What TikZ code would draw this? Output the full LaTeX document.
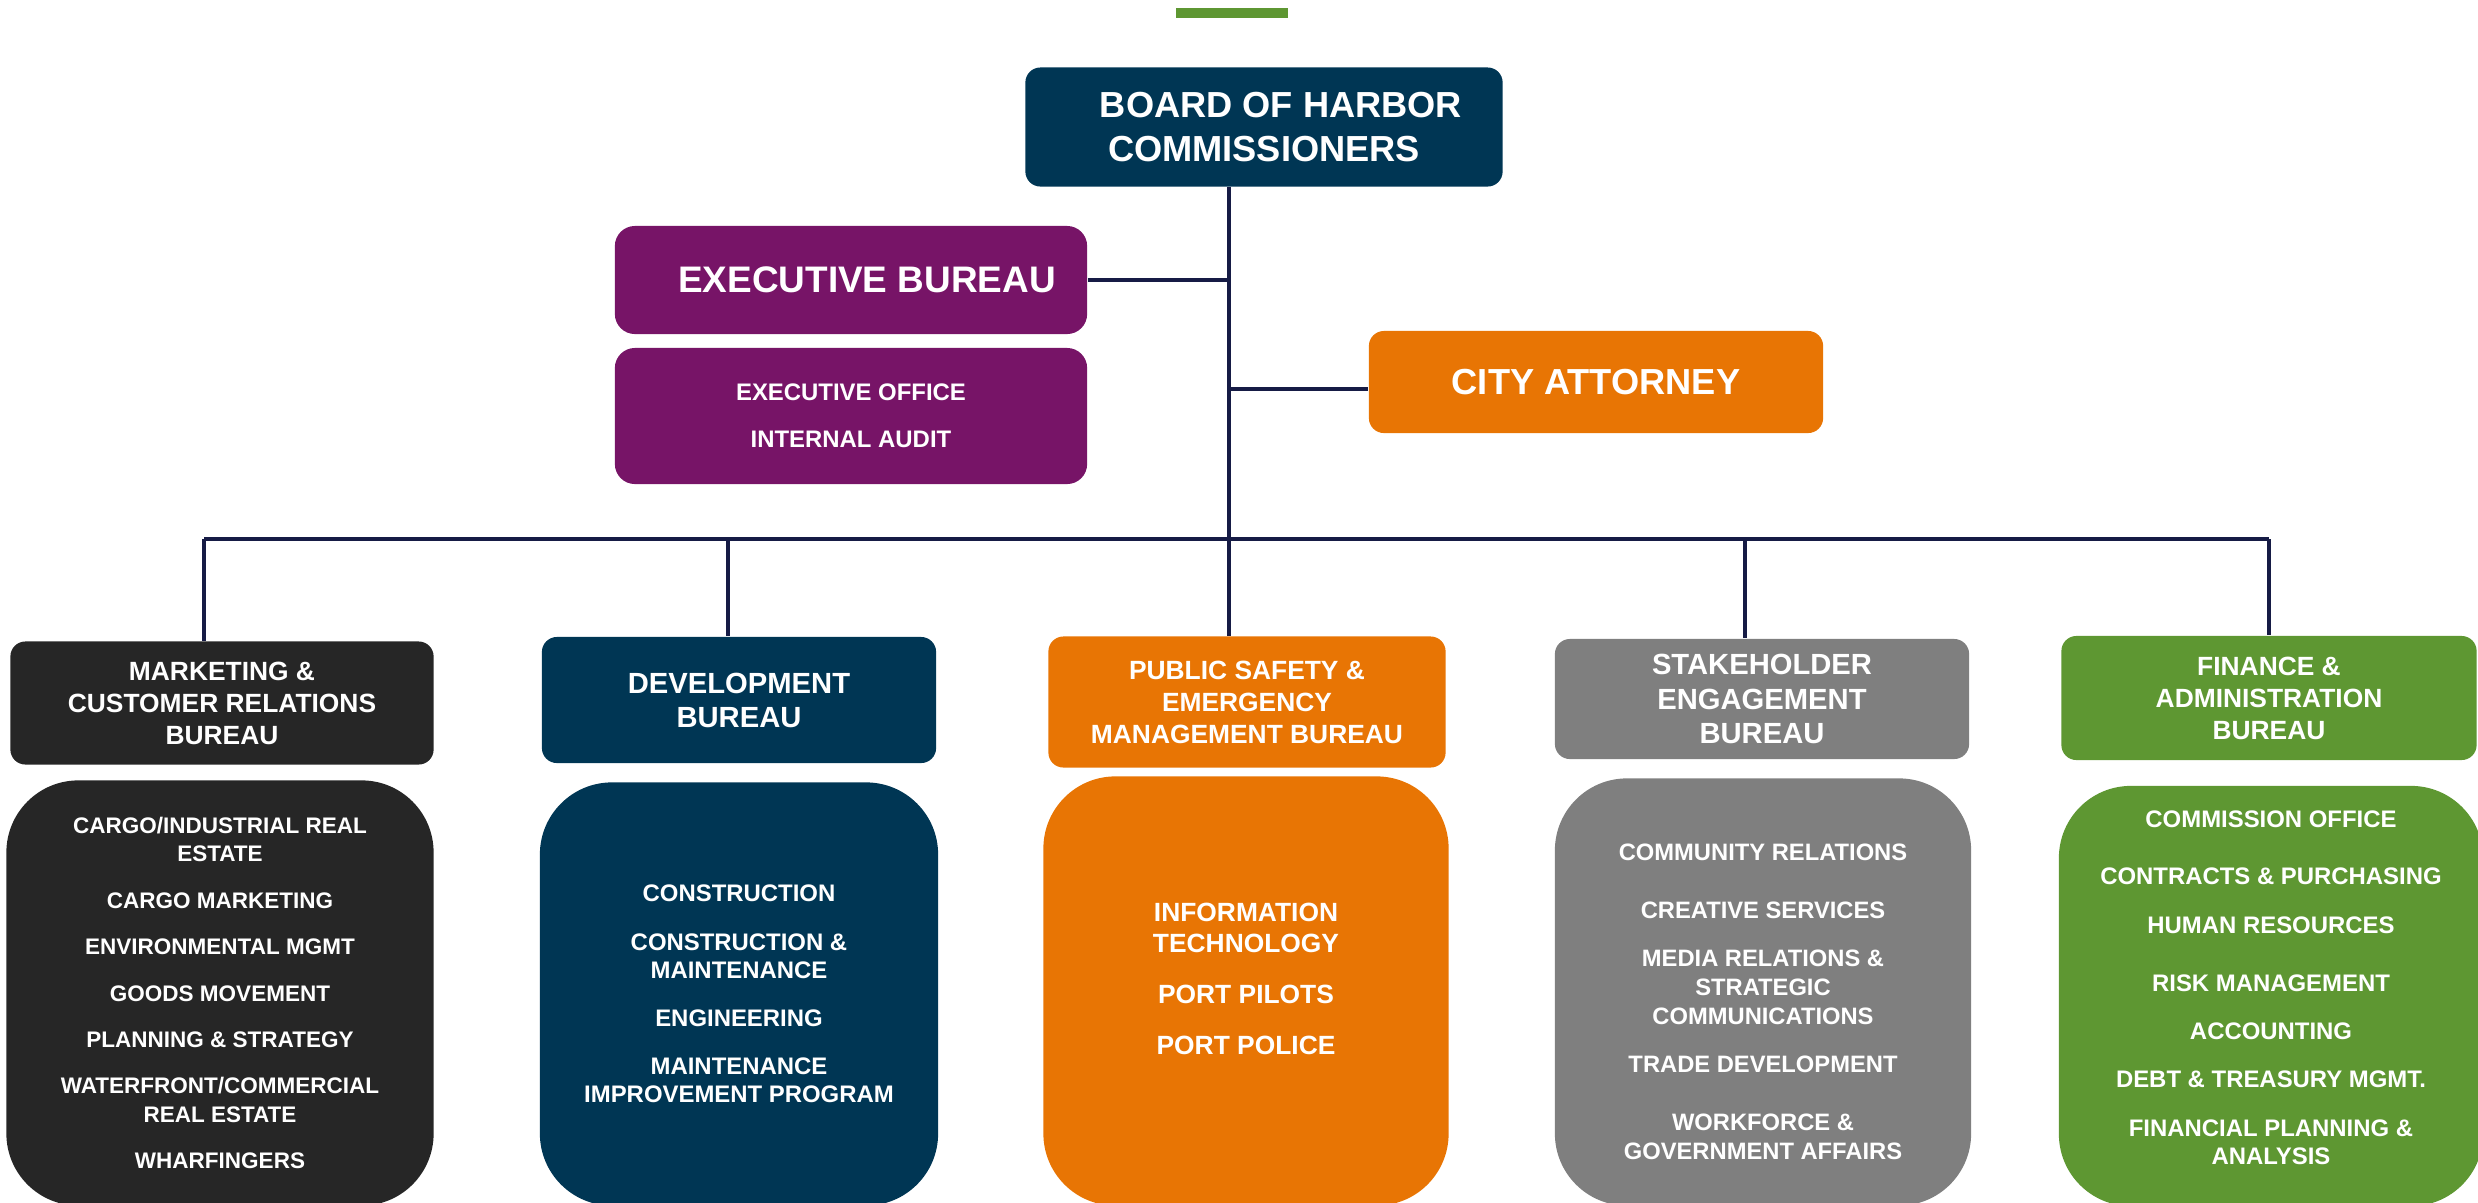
\documentclass[tikz,border=0pt]{standalone}
\usepackage{fontspec}
\setmainfont{Liberation Sans}
\definecolor{harbor}{HTML}{003654}
\definecolor{execpurple}{HTML}{771467}
\definecolor{portorange}{HTML}{E87504}
\definecolor{charcoal}{HTML}{262626}
\definecolor{stonegrey}{HTML}{7F7F7F}
\definecolor{leafgreen}{HTML}{5E9732}
\definecolor{linknavy}{HTML}{161B45}
\begin{document}
\begin{tikzpicture}[
  x=0.01cm, y=-0.01cm,
  unit/.style={rectangle, rounded corners=0.15cm, text=white, align=center, inner sep=0pt},
  listbox/.style={rectangle, rounded corners=0.72cm, text=white, align=center, inner sep=0pt},
  items/.style={font=\bfseries\fontsize{6.8}{8}\selectfont},
  head/.style={font=\bfseries\fontsize{7.5}{9.1}\selectfont},
  link/.style={draw=linknavy, line width=1.15pt}
]
\useasboundingbox (0,0) rectangle (2478,1202);
\clip (0,0) rectangle (2478,1202);

\fill[leafgreen] (1176,8) rectangle (1288,18);

% Top level
\node[unit, fill=harbor, minimum width=4.77cm, minimum height=1.19cm, font=\bfseries\fontsize{10.3}{12.5}\selectfont] (board) at (1264,127) {\hspace*{0.34cm}BOARD OF HARBOR\\COMMISSIONERS};
\node[unit, fill=execpurple, rounded corners=0.2cm, minimum width=4.72cm, minimum height=1.08cm, font=\bfseries\fontsize{10.5}{12.5}\selectfont] (exec) at (851,280) {\hspace*{0.32cm}EXECUTIVE BUREAU};
\node[unit, fill=execpurple, rounded corners=0.2cm, minimum width=4.72cm, minimum height=1.36cm, items] (execsub) at (851,416) {EXECUTIVE OFFICE\\[5.4pt]INTERNAL AUDIT};
\node[unit, fill=portorange, minimum width=4.54cm, minimum height=1.02cm, font=\bfseries\fontsize{10.3}{12.5}\selectfont] (city) at (1596,382) {CITY ATTORNEY};

% Bureaus
\node[unit, fill=charcoal, minimum width=4.23cm, minimum height=1.23cm, head] (mkt) at (222,703) {MARKETING \&\\CUSTOMER RELATIONS\\BUREAU};
\node[unit, fill=harbor, minimum width=3.94cm, minimum height=1.26cm, font=\bfseries\fontsize{8.3}{9.7}\selectfont] (dev) at (739,700) {DEVELOPMENT\\BUREAU};
\node[unit, fill=portorange, minimum width=3.97cm, minimum height=1.31cm, head] (ps) at (1247,702) {PUBLIC SAFETY \&\\EMERGENCY\\MANAGEMENT BUREAU};
\node[unit, fill=stonegrey, minimum width=4.14cm, minimum height=1.20cm, font=\bfseries\fontsize{8.3}{9.8}\selectfont] (sh) at (1762,699) {STAKEHOLDER\\ENGAGEMENT\\BUREAU};
\node[unit, fill=leafgreen, minimum width=4.15cm, minimum height=1.24cm, head] (fin) at (2269,698) {FINANCE \&\\ADMINISTRATION\\BUREAU};

% Divisions
\node[listbox, fill=charcoal, minimum width=4.27cm, minimum height=4.25cm, font=\bfseries\fontsize{6.4}{8}\selectfont] (mktsub) at (220,993) {CARGO/INDUSTRIAL REAL\\ESTATE\\[5.2pt]CARGO MARKETING\\[5.2pt]ENVIRONMENTAL MGMT\\[5.2pt]GOODS MOVEMENT\\[5.2pt]PLANNING \& STRATEGY\\[5.2pt]WATERFRONT/COMMERCIAL\\REAL ESTATE\\[5.2pt]WHARFINGERS};
\node[listbox, fill=harbor, minimum width=3.98cm, minimum height=4.23cm, items] (devsub) at (739,994) {CONSTRUCTION\\[5.7pt]CONSTRUCTION \&\\MAINTENANCE\\[5.7pt]ENGINEERING\\[5.7pt]MAINTENANCE\\IMPROVEMENT PROGRAM};
\node[listbox, fill=portorange, minimum width=4.05cm, minimum height=4.29cm, text depth=0.24cm, font=\bfseries\fontsize{7.5}{8.8}\selectfont] (pssub) at (1246,991) {INFORMATION\\TECHNOLOGY\\[5.7pt]PORT PILOTS\\[5.7pt]PORT POLICE};
\node[listbox, fill=stonegrey, minimum width=4.16cm, minimum height=4.27cm, font=\bfseries\fontsize{6.75}{8.25}\selectfont] (shsub) at (1763,992) {\rule{0pt}{10.3pt}COMMUNITY RELATIONS\\[8.25pt]CREATIVE SERVICES\\[5.4pt]MEDIA RELATIONS \&\\STRATEGIC\\COMMUNICATIONS\\[5.4pt]TRADE DEVELOPMENT\\[8pt]WORKFORCE \&\\GOVERNMENT AFFAIRS};
\node[listbox, fill=leafgreen, minimum width=4.24cm, minimum height=4.20cm, text depth=0.16cm, items] (finsub) at (2271,996) {COMMISSION OFFICE\\[8.2pt]CONTRACTS \& PURCHASING\\[5.7pt]HUMAN RESOURCES\\[8.5pt]RISK MANAGEMENT\\[5.7pt]ACCOUNTING\\[5.7pt]DEBT \& TREASURY MGMT.\\[6pt]FINANCIAL PLANNING \&\\ANALYSIS};

% Bus taps
\coordinate (hub) at (1229,539);
\coordinate (tapmkt) at (204,539);
\coordinate (tapdev) at (728,539);
\coordinate (tapsh) at (1745,539);
\coordinate (tapfin) at (2269,539);

% Connectors
\draw[link] (board.south -| hub) -- (hub |- ps.north);
\draw[link] (exec.east) -- (exec.east -| hub);
\draw[link] ([yshift=-0.07cm]city.west) -- ([yshift=-0.07cm]city.west -| hub);
\draw[link] (tapmkt) -- (tapfin);
\draw[link] (tapmkt) -- (tapmkt |- mkt.north);
\draw[link] (tapdev) -- (tapdev |- dev.north);
\draw[link] (tapsh) -- (tapsh |- sh.north);
\draw[link] (tapfin) -- (tapfin |- fin.north);
\end{tikzpicture}
\end{document}
